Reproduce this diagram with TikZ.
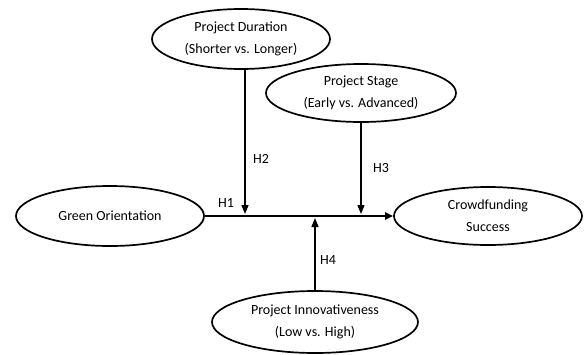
\documentclass[tikz,border=0pt]{standalone}
\usepackage{fontspec}
\setmainfont{Carlito}
\usetikzlibrary{shapes.geometric,arrows.meta}
\begin{document}
\begin{tikzpicture}[x=1pt,y=-1pt,
  var/.style={ellipse,draw,line width=1.7pt,inner sep=0pt,align=center,
    font=\fontsize{14}{22}\selectfont},
  hlab/.style={font=\fontsize{14}{16}\selectfont,inner sep=0pt},
  arr/.style={line width=1.3pt,-{Triangle[length=9pt,width=7pt]}},
  mainarr/.style={line width=2.2pt,-{Triangle[length=8pt,width=7pt]}}]
\useasboundingbox (0,0) rectangle (584,354);
\node[var,minimum width=178pt,minimum height=60pt] (dur) at (241,39) {Project Duration\\(Shorter vs. Longer)};
\node[var,minimum width=190pt,minimum height=58pt] (stage) at (361,93) {Project Stage\\(Early vs. Advanced)};
\node[var,minimum width=188pt,minimum height=60pt] (green) at (110,216) {Green Orientation};
\node[var,minimum width=188pt,minimum height=58pt] (crowd) at (488,216) {Crowdfunding\\Success};
\node[var,minimum width=206pt,minimum height=62pt] (innov) at (315,322) {Project Innovativeness\\(Low vs. High)};
\coordinate (p2) at (245,214);
\coordinate (p3) at (361,214);
\coordinate (p4) at (315,218);
\draw[mainarr] (green.east) -- (crowd.west);
\draw[arr] (dur.south -| p2) -- (p2);
\draw[arr] (stage.south) -- (p3);
\draw[arr] (innov.north) -- (p4);
\node[hlab] (h1) at (226,203) {H1};
\node[hlab] (h2) at (261,159) {H2};
\node[hlab] (h3) at (381,168) {H3};
\node[hlab] (h4) at (328,260) {H4};
\end{tikzpicture}
\end{document}
